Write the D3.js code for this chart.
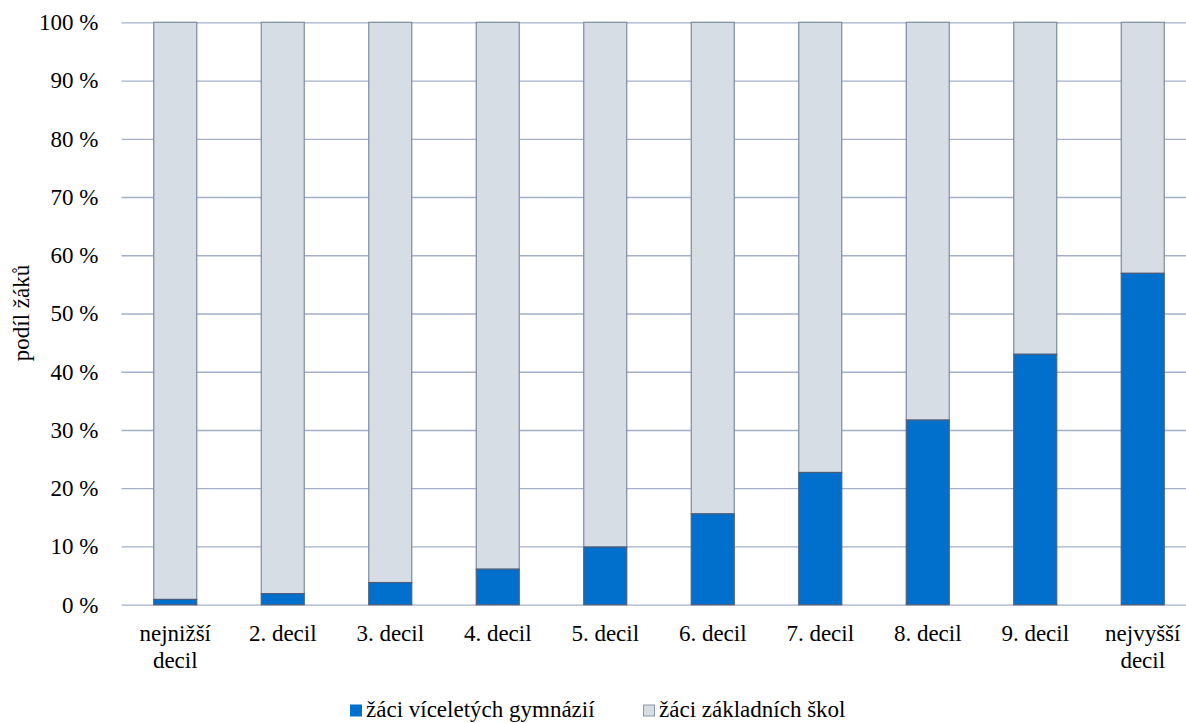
<!DOCTYPE html>
<html>
<head>
<meta charset="utf-8">
<script src="https://cdn.jsdelivr.net/npm/d3@7"></script>
<style>
  html, body { margin: 0; padding: 0; background: #fff; }
  svg { display: block; }
</style>
</head>
<body>
<svg id="chart" width="1186" height="723" font-family="Liberation Serif"></svg>
<script>
// Decile categories (line breaks mark wrapped labels)
const categories = [
  "nejnižší\ndecil", "2. decil", "3. decil", "4. decil", "5. decil",
  "6. decil", "7. decil", "8. decil", "9. decil", "nejvyšší\ndecil"
];
// Share of pupils in multi-year grammar schools (%)
const gymnaziaShare = [0.9, 1.9, 3.8, 6.1, 9.9, 15.6, 22.7, 31.7, 43.0, 56.9];
// Share of pupils in basic schools (%) = remainder to 100 %
const zsShare = gymnaziaShare.map(v => +(100 - v).toFixed(1));
const seriesNames = ["žáci víceletých gymnázií", "žáci základních škol"];
const yTicks = [0, 10, 20, 30, 40, 50, 60, 70, 80, 90, 100];
const yTitle = "podíl žáků";

const colors = { gym: "#0070cc", zs: "#d6dde5" };
const fontSize = 23;
const fontFamily = "Liberation Serif";

const svg = d3.select("#chart");
const plot = { left: 121.5, right: 1196.5, top: 22.3, bottom: 604.7 };

const x = d3.scaleBand()
  .domain(categories)
  .range([plot.left, plot.right])
  .paddingInner(0.6)
  .paddingOuter(0.3);

const y = d3.scaleLinear()
  .domain([0, 100])
  .range([plot.bottom, plot.top]);

// Horizontal gridlines with percentage labels
const yAxis = d3.axisLeft(y)
  .tickValues(yTicks)
  .tickSize(-(plot.right - plot.left))
  .tickPadding(23)
  .tickFormat(d => d + " %");

const gy = svg.append("g")
  .attr("transform", `translate(${plot.left},0)`)
  .call(yAxis)
  .attr("font-family", fontFamily)
  .attr("font-size", fontSize);
gy.select(".domain").remove();
gy.selectAll(".tick line")
  .attr("stroke", "#a3b0c8")
  .attr("stroke-width", 1.3);
gy.selectAll(".tick text")
  .attr("font-family", fontFamily)
  .attr("font-size", fontSize)
  .attr("fill", "#000");

// Stacked bars
const stackData = categories.map((c, i) => ({ cat: c, gym: gymnaziaShare[i], zs: zsShare[i] }));
const stacked = d3.stack().keys(["gym", "zs"])(stackData);

const barStroke = { gym: "#4d5d78", zs: "#7d8ba3" };
svg.append("g")
  .selectAll("g")
  .data(stacked.slice().reverse())
  .join("g")
  .attr("fill", s => colors[s.key])
  .attr("stroke", s => barStroke[s.key])
  .attr("stroke-width", 1.2)
  .selectAll("rect")
  .data(s => s)
  .join("rect")
  .attr("x", d => x(d.data.cat))
  .attr("width", x.bandwidth())
  .attr("y", d => y(d[1]))
  .attr("height", d => y(d[0]) - y(d[1]));

// Category labels
const xl = svg.append("g");
categories.forEach(c => {
  const cx = x(c) + x.bandwidth() / 2;
  c.split("\n").forEach((ln, j) => {
    xl.append("text")
      .attr("x", cx)
      .attr("y", 641 + j * 27.3)
      .attr("text-anchor", "middle")
      .attr("font-family", fontFamily)
      .attr("font-size", fontSize)
      .attr("fill", "#000")
      .text(ln);
  });
});

// Y axis title
svg.append("text")
  .attr("transform", "translate(29,313) rotate(-90)")
  .attr("text-anchor", "middle")
  .attr("font-family", fontFamily)
  .attr("font-size", fontSize)
  .attr("fill", "#000")
  .text(yTitle);

// Legend
const legend = svg.append("g");
const legendItems = [
  { name: seriesNames[0], fill: colors.gym, stroke: colors.gym, x: 350.5 },
  { name: seriesNames[1], fill: colors.zs, stroke: "#8a97ad", x: 643.5 }
];
legendItems.forEach(it => {
  legend.append("rect")
    .attr("x", it.x).attr("y", 705)
    .attr("width", 11).attr("height", 11)
    .attr("fill", it.fill)
    .attr("stroke", it.stroke)
    .attr("stroke-width", 1);
  legend.append("text")
    .attr("x", it.x + 15.5)
    .attr("y", 717)
    .attr("font-family", fontFamily)
    .attr("font-size", fontSize)
    .attr("fill", "#000")
    .text(it.name);
});
</script>
</body>
</html>
